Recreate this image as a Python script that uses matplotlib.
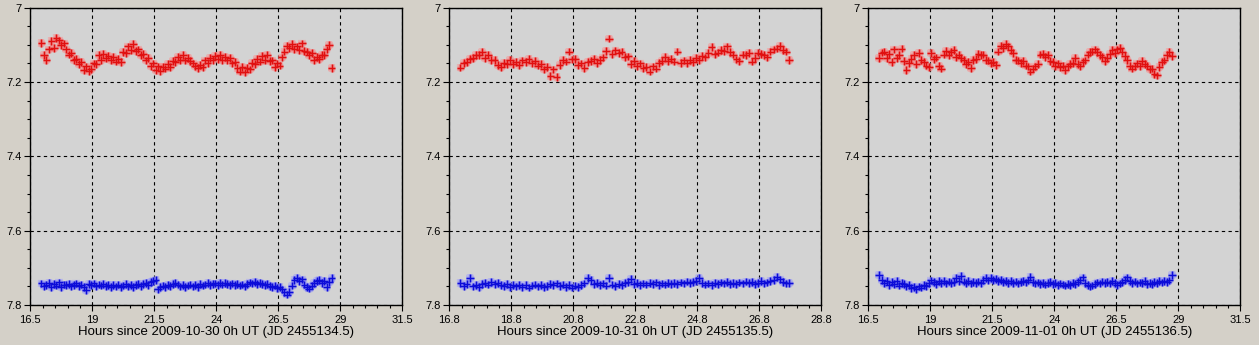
import numpy as np
import matplotlib
matplotlib.use("Agg")
import matplotlib.pyplot as plt
import matplotlib.patheffects as pe
from matplotlib.ticker import FixedLocator, AutoMinorLocator, FormatStrFormatter

# ---- observation cadence per night (hours since 0h UT) ----
night1_start, night1_step = 16.95, 0.1
night2_start, night2_step = 17.16, 0.1
night3_start, night3_step = 16.94, 0.1

# ---- night 1: 2009-10-30 ----
red1 = [7.095, 7.128, 7.140, 7.112, 7.090, 7.108, 7.082, 7.088, 7.101, 7.096,
        7.112, 7.126, 7.122, 7.141, 7.138, 7.152, 7.146, 7.168, 7.158, 7.170,
        7.165, 7.150, 7.152, 7.128, 7.140, 7.124, 7.136, 7.129, 7.142, 7.133,
        7.145, 7.138, 7.146, 7.120, 7.122, 7.104, 7.114, 7.098, 7.116, 7.112,
        7.128, 7.124, 7.142, 7.136, 7.158, 7.150, 7.168, 7.158, 7.170, 7.160,
        7.164, 7.152, 7.160, 7.143, 7.146, 7.132, 7.140, 7.128, 7.142, 7.136,
        7.144, 7.150, 7.158, 7.162, 7.155, 7.160, 7.142, 7.148, 7.136, 7.140,
        7.130, 7.138, 7.128, 7.140, 7.132, 7.142, 7.136, 7.150, 7.146, 7.162,
        7.172, 7.160, 7.174, 7.162, 7.166, 7.148, 7.152, 7.138, 7.145, 7.130,
        7.140, 7.126, 7.144, 7.142, 7.160, 7.150, 7.156, 7.134, 7.118, 7.102,
        7.108, 7.098, 7.112, 7.104, 7.114, 7.096, 7.116, 7.118, 7.128, 7.122,
        7.140, 7.132, 7.138, 7.126, 7.128, 7.112, 7.100, 7.163]
blue1 = [7.742, 7.750, 7.746, 7.740, 7.752, 7.744, 7.748, 7.739, 7.751, 7.745,
         7.747, 7.743, 7.750, 7.746, 7.742, 7.749, 7.745, 7.751, 7.760, 7.744,
         7.746, 7.742, 7.750, 7.745, 7.748, 7.743, 7.749, 7.746, 7.752, 7.747,
         7.750, 7.745, 7.751, 7.748, 7.744, 7.750, 7.746, 7.752, 7.747, 7.743,
         7.749, 7.744, 7.741, 7.746, 7.738, 7.735, 7.732, 7.758, 7.752, 7.748,
         7.751, 7.746, 7.749, 7.744, 7.740, 7.745, 7.750, 7.747, 7.752, 7.748,
         7.745, 7.750, 7.747, 7.752, 7.743, 7.748, 7.745, 7.741, 7.747, 7.744,
         7.742, 7.746, 7.741, 7.745, 7.740, 7.744, 7.747, 7.742, 7.746, 7.743,
         7.748, 7.745, 7.750, 7.744, 7.739, 7.742, 7.738, 7.744, 7.740, 7.743,
         7.746, 7.744, 7.749, 7.751, 7.748, 7.755, 7.752, 7.758, 7.766, 7.772,
         7.764, 7.748, 7.733, 7.728, 7.736, 7.731, 7.745, 7.752, 7.756, 7.748,
         7.741, 7.736, 7.732, 7.740, 7.735, 7.752, 7.738, 7.728]

# ---- night 2: 2009-10-31 ----
red2 = [7.161, 7.148, 7.146, 7.138, 7.136, 7.127, 7.128, 7.118, 7.135, 7.126,
        7.140, 7.141, 7.155, 7.160, 7.149, 7.152, 7.140, 7.151, 7.146, 7.155,
        7.142, 7.146, 7.138, 7.150, 7.144, 7.156, 7.151, 7.166, 7.160, 7.184,
        7.166, 7.186, 7.154, 7.140, 7.145, 7.118, 7.139, 7.138, 7.154, 7.150,
        7.162, 7.146, 7.143, 7.138, 7.149, 7.141, 7.134, 7.116, 7.083, 7.124,
        7.115, 7.122, 7.118, 7.132, 7.131, 7.152, 7.144, 7.158, 7.150, 7.163,
        7.160, 7.172, 7.158, 7.164, 7.148, 7.143, 7.133, 7.144, 7.138, 7.145,
        7.118, 7.148, 7.142, 7.150, 7.141, 7.146, 7.135, 7.140, 7.130, 7.134,
        7.122, 7.106, 7.124, 7.121, 7.114, 7.116, 7.104, 7.119, 7.126, 7.139,
        7.144, 7.126, 7.128, 7.122, 7.145, 7.136, 7.121, 7.124, 7.128, 7.134,
        7.118, 7.112, 7.110, 7.102, 7.114, 7.118, 7.141]
blue2 = [7.741, 7.749, 7.744, 7.727, 7.750, 7.746, 7.752, 7.743, 7.740, 7.745,
         7.738, 7.744, 7.741, 7.747, 7.749, 7.744, 7.752, 7.746, 7.750, 7.747,
         7.751, 7.746, 7.753, 7.748, 7.745, 7.750, 7.747, 7.752, 7.749, 7.744,
         7.747, 7.742, 7.749, 7.745, 7.751, 7.746, 7.753, 7.748, 7.752, 7.746,
         7.742, 7.727, 7.732, 7.744, 7.740, 7.746, 7.742, 7.748, 7.728, 7.745,
         7.749, 7.743, 7.747, 7.741, 7.738, 7.730, 7.744, 7.740, 7.746, 7.742,
         7.745, 7.740, 7.744, 7.739, 7.746, 7.742, 7.745, 7.740, 7.744, 7.741,
         7.743, 7.739, 7.742, 7.737, 7.741, 7.738, 7.735, 7.728, 7.740, 7.745,
         7.742, 7.746, 7.740, 7.744, 7.739, 7.742, 7.738, 7.743, 7.740, 7.744,
         7.739, 7.742, 7.737, 7.741, 7.738, 7.744, 7.740, 7.736, 7.742, 7.739,
         7.736, 7.733, 7.725, 7.731, 7.738, 7.742, 7.740]

# ---- night 3: 2009-11-01 ----
red3 = [7.136, 7.121, 7.118, 7.135, 7.124, 7.146, 7.112, 7.136, 7.128, 7.110,
        7.144, 7.168, 7.148, 7.138, 7.128, 7.152, 7.122, 7.140, 7.146, 7.156,
        7.160, 7.122, 7.138, 7.134, 7.156, 7.164, 7.126, 7.116, 7.128, 7.120,
        7.114, 7.132, 7.126, 7.136, 7.140, 7.152, 7.146, 7.162, 7.140, 7.138,
        7.124, 7.128, 7.126, 7.140, 7.142, 7.150, 7.146, 7.154, 7.118, 7.102,
        7.108, 7.098, 7.104, 7.114, 7.122, 7.140, 7.142, 7.148, 7.144, 7.156,
        7.158, 7.172, 7.164, 7.158, 7.152, 7.126, 7.124, 7.132, 7.128, 7.144,
        7.146, 7.158, 7.150, 7.160, 7.156, 7.168, 7.158, 7.152, 7.148, 7.136,
        7.152, 7.158, 7.146, 7.142, 7.126, 7.120, 7.118, 7.112, 7.120, 7.128,
        7.132, 7.144, 7.136, 7.124, 7.114, 7.122, 7.112, 7.108, 7.118, 7.130,
        7.140, 7.156, 7.164, 7.158, 7.150, 7.158, 7.144, 7.152, 7.156, 7.166,
        7.164, 7.178, 7.182, 7.160, 7.146, 7.142, 7.128, 7.120, 7.130]
blue3 = [7.720, 7.732, 7.742, 7.736, 7.746, 7.738, 7.744, 7.735, 7.748, 7.740,
         7.744, 7.750, 7.747, 7.755, 7.752, 7.758, 7.750, 7.753, 7.746, 7.749,
         7.742, 7.734, 7.738, 7.743, 7.735, 7.740, 7.736, 7.742, 7.737, 7.741,
         7.738, 7.728, 7.735, 7.722, 7.737, 7.740, 7.736, 7.742, 7.738, 7.741,
         7.737, 7.742, 7.732, 7.728, 7.734, 7.727, 7.733, 7.730, 7.736, 7.732,
         7.738, 7.735, 7.741, 7.736, 7.740, 7.737, 7.742, 7.738, 7.735, 7.739,
         7.734, 7.724, 7.738, 7.742, 7.739, 7.744, 7.740, 7.745, 7.741, 7.738,
         7.743, 7.740, 7.746, 7.742, 7.745, 7.748, 7.743, 7.746, 7.741, 7.744,
         7.738, 7.734, 7.726, 7.740, 7.746, 7.750, 7.748, 7.744, 7.739, 7.742,
         7.737, 7.741, 7.738, 7.742, 7.736, 7.740, 7.746, 7.742, 7.738, 7.733,
         7.726, 7.736, 7.740, 7.737, 7.742, 7.739, 7.741, 7.736, 7.744, 7.740,
         7.743, 7.738, 7.741, 7.736, 7.739, 7.735, 7.738, 7.734, 7.720]

# ---- axis settings per night ----
xlabels = ["Hours since 2009-10-30 0h UT (JD 2455134.5)",
           "Hours since 2009-10-31 0h UT (JD 2455135.5)",
           "Hours since 2009-11-01 0h UT (JD 2455136.5)"]
xticks = [[16.5, 19, 21.5, 24, 26.5, 29, 31.5],
          [16.8, 18.8, 20.8, 22.8, 24.8, 26.8, 28.8],
          [16.5, 19, 21.5, 24, 26.5, 29, 31.5]]
yticks = [7.0, 7.2, 7.4, 7.6, 7.8]

nights = [
    (night1_start, night1_step, red1, blue1),
    (night2_start, night2_step, red2, blue2),
    (night3_start, night3_step, red3, blue3),
]

FIG_BG = "#d4d0c8"
AX_BG = "#d3d3d3"
RED = "#e01010"
BLUE = "#0c0cd8"

fig = plt.figure(figsize=(12.59, 3.45), dpi=100, facecolor=FIG_BG)
W, H = 1259.0, 345.0
lefts = [30.3, 449.3, 868.3]
top_px, bottom_px, width_px = 7.7, 305.0, 372.0

for k, (t0, dt, red, blue) in enumerate(nights):
    ax = fig.add_axes([lefts[k] / W, (H - bottom_px) / H,
                       width_px / W, (bottom_px - top_px) / H])
    ax.set_facecolor(AX_BG)

    t_red = t0 + dt * np.arange(len(red))
    t_blue = t0 + dt * np.arange(len(blue))

    glow_r = [pe.Stroke(linewidth=4.5, foreground="#ff8c8c", alpha=0.45),
              pe.Stroke(linewidth=2.5, foreground="#f06a6a", alpha=0.6),
              pe.Normal()]
    glow_b = [pe.Stroke(linewidth=4.5, foreground="#9c9cff", alpha=0.45),
              pe.Stroke(linewidth=2.5, foreground="#7070f0", alpha=0.6),
              pe.Normal()]
    ax.plot(t_red, red, linestyle="none", marker="+", markersize=5.5,
            markeredgewidth=1.0, color=RED, path_effects=glow_r, zorder=3)
    ax.plot(t_blue, blue, linestyle="none", marker="+", markersize=5.5,
            markeredgewidth=1.0, color=BLUE, path_effects=glow_b, zorder=3)

    ax.set_xlim(xticks[k][0], xticks[k][-1])
    ax.set_ylim(yticks[-1], yticks[0])
    ax.xaxis.set_major_locator(FixedLocator(xticks[k]))
    ax.xaxis.set_minor_locator(AutoMinorLocator(5))
    ax.yaxis.set_major_locator(FixedLocator(yticks))
    ax.yaxis.set_minor_locator(AutoMinorLocator(4))
    ax.xaxis.set_major_formatter(FormatStrFormatter("%g"))
    ax.yaxis.set_major_formatter(FormatStrFormatter("%g"))

    ax.grid(True, which="major", color="black", linestyle=(0, (3, 3)),
            linewidth=0.8, zorder=1)
    ax.set_axisbelow(True)

    for s in ax.spines.values():
        s.set_color("black")
        s.set_linewidth(1.0)

    ax.tick_params(axis="both", which="major", direction="out", length=4,
                   width=0.8, colors="black", labelsize=8, pad=2)
    ax.tick_params(axis="both", which="minor", direction="out", length=2,
                   width=0.8, colors="black")
    ax.tick_params(axis="x", pad=3)
    for lab in ax.get_xticklabels() + ax.get_yticklabels():
        lab.set_family("Liberation Sans")

    ax.set_xlabel(xlabels[k], fontsize=9.5, family="Liberation Sans",
                  labelpad=1)

fig.savefig("out.png", dpi=100, facecolor=FIG_BG)
